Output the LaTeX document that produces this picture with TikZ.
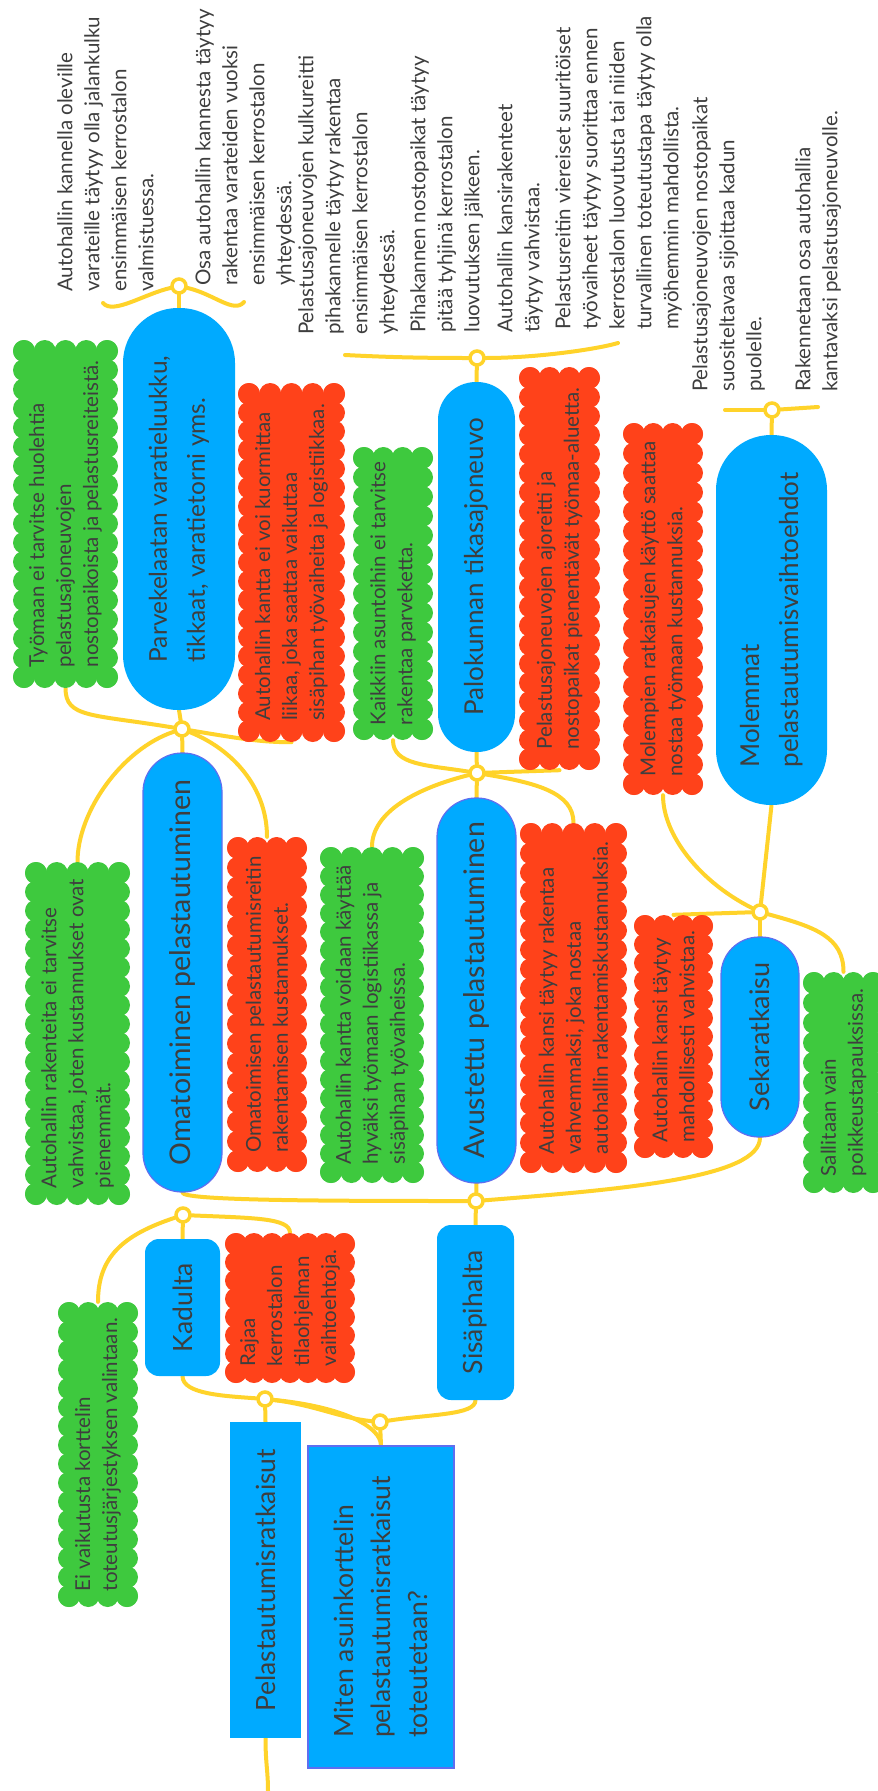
\documentclass[tikz,border=0pt]{standalone}
\usepackage{fontspec}
\setmainfont{Lato}
\definecolor{mmblue}{RGB}{0,170,255}
\definecolor{mmgreen}{RGB}{62,201,62}
\definecolor{mmred}{RGB}{255,66,26}
\definecolor{mmyel}{RGB}{255,211,42}
\definecolor{mmtxt}{RGB}{62,62,62}
\definecolor{mmbord}{RGB}{95,110,240}
\pgfdeclarelayer{bg}
\pgfdeclarelayer{conn}
\pgfsetlayers{bg,conn,main}
\tikzset{
  every node/.style={text=mmtxt},
  notetxt/.style={font=\fontsize{20.5}{27}\selectfont, align=left, inner sep=0pt},
  freetxt/.style={font=\fontsize{20.5}{27}\selectfont, align=left, inner sep=0pt, rotate=90, anchor=north west},
  topic/.style={fill=mmblue, font=\fontsize{26}{38}\selectfont, align=left, inner sep=0pt, rotate=90},
  topicb/.style={topic, draw=mmbord, line width=1.2pt},
  junc/.style={circle, draw=mmyel, fill=white, line width=3.5pt, minimum size=14pt, inner sep=0pt},
  conn/.style={draw=mmyel, line width=4pt, line cap=round},
}
\newcommand\mmscallop[5]{%
  \pgfmathsetmacro\mmax{#2+11}\pgfmathsetmacro\mmbx{#4-11}%
  \pgfmathsetmacro\mmay{#3+11}\pgfmathsetmacro\mmby{#5-11}%
  \pgfmathtruncatemacro\mmnx{max(1,round((\mmbx-\mmax)/19))}%
  \pgfmathtruncatemacro\mmny{max(1,round((\mmby-\mmay)/19))}%
  \fill[#1] (\mmax,\mmay) rectangle (\mmbx,\mmby);%
  \foreach \mmi in {0,...,\mmnx}{\fill[#1] ({\mmax+(\mmbx-\mmax)*\mmi/\mmnx},\mmay) circle[radius=11pt] ({\mmax+(\mmbx-\mmax)*\mmi/\mmnx},\mmby) circle[radius=11pt];}%
  \foreach \mmi in {0,...,\mmny}{\fill[#1] (\mmax,{\mmay+(\mmby-\mmay)*\mmi/\mmny}) circle[radius=11pt] (\mmbx,{\mmay+(\mmby-\mmay)*\mmi/\mmny}) circle[radius=11pt];}%
}
\newcommand\mmcloud[7]{%
  \mmscallop{#2}{#3}{#4}{#5}{#6}%
  \pgfmathsetmacro\mmw{#6-#4}\pgfmathsetmacro\mmh{#5-#3}%
  \node[notetxt, rotate=90, minimum width=\mmw pt, minimum height=\mmh pt] (#1) at ({(#3+#5)/2},{(#4+#6)/2}) {#7};%
}
\begin{document}
\begin{tikzpicture}[x=1pt,y=-1pt]
\useasboundingbox (0,0) rectangle (878,1791);
\begin{pgfonlayer}{bg}
\fill[white] (0,0) rectangle (878,1791);
\end{pgfonlayer}

% topic boxes
\node[topic, minimum width=316pt, minimum height=71pt, font=\fontsize{26.5}{37}\selectfont] (root) at (265.5,1580) {Pelastautumisratkaisut};
\node[topicb, minimum width=322pt, minimum height=146pt, font=\fontsize{26.5}{37}\selectfont] (miten) at (381,1607) {Miten asuinkorttelin\\pelastautumisratkaisut\\toteutetaan?};
\node[topic, minimum width=137pt, minimum height=75pt, rounded corners=14pt, font=\fontsize{26.5}{37}\selectfont] (kad) at (182.5,1307.5) {Kadulta};
\node[topic, minimum width=175pt, minimum height=77pt, rounded corners=14pt, font=\fontsize{26.5}{37}\selectfont] (sisa) at (475.5,1312.5) {Sisäpihalta};
\node[topicb, minimum width=439pt, minimum height=79pt, rounded corners=39pt, font=\fontsize{28.5}{38}\selectfont] (omat) at (182.5,972.5) {Omatoiminen pelastautuminen};
\node[topicb, minimum width=385pt, minimum height=79pt, rounded corners=39pt, font=\fontsize{28.5}{38}\selectfont] (avust) at (476.5,990.5) {Avustettu pelastautuminen};
\node[topic, minimum width=402pt, minimum height=112pt, rounded corners=55pt, font=\fontsize{24.5}{38}\selectfont] (parve) at (179,509) {Parvekelaatan varatieluukku,\\tikkaat, varatietorni yms.};
\node[topic, minimum width=370pt, minimum height=77pt, rounded corners=38pt] (palok) at (476.5,567) {Palokunnan tikasajoneuvo};
\node[topic, minimum width=370pt, minimum height=111pt, rounded corners=55pt, font=\fontsize{26}{39}\selectfont] (molem) at (771.5,620) {Molemmat\\pelastautumisvaihtoehdot};
\node[topicb, minimum width=200pt, minimum height=78pt, rounded corners=38pt, font=\fontsize{27}{38}\selectfont] (sekar) at (760,1037) {Sekaratkaisu};

% notes (clouds)
\mmcloud{g1}{mmgreen}{58}{1302}{138}{1607}{Ei vaikutusta korttelin\\toteutusjärjestyksen valintaan.}
\mmcloud{r1}{mmred}{225}{1233}{355}{1383}{Rajaa\\kerrostalon\\tilaohjelman\\vaihtoehtoja.}
\mmcloud{g2}{mmgreen}{25}{862}{130}{1205}{Autohallin rakenteita ei tarvitse\\vahvistaa, joten kustannukset ovat\\pienemmät.}
\mmcloud{r2}{mmred}{227}{837}{307}{1172}{Omatoimisen pelastautumisreitin\\rakentamisen kustannukset.}
\mmcloud{g3}{mmgreen}{320}{847}{424}{1183}{Autohallin kantta voidaan käyttää\\hyväksi työmaan logistiikassa ja\\sisäpihan työvaiheissa.}
\mmcloud{g4}{mmgreen}{13}{340}{118}{688}{Työmaan ei tarvitse huolehtia\\pelastusajoneuvojen\\nostopaikoista ja pelastusreiteistä.}
\mmcloud{r3}{mmred}{238}{383}{345}{742}{Autohallin kantta ei voi kuormittaa\\liikaa, joka saattaa vaikuttaa\\sisäpihan työvaiheita ja logistiikkaa.}
\mmcloud{g5}{mmgreen}{353}{447}{433}{740}{Kaikkiin asuntoihin ei tarvitse\\rakentaa parveketta.}
\mmcloud{r4}{mmred}{519}{367}{600}{770}{Pelastusajoneuvojen ajoreitti ja\\nostopaikat pienentävät työmaa-aluetta.}
\mmcloud{r5}{mmred}{520}{823}{627}{1173}{Autohallin kansi täytyy rakentaa\\vahvemmaksi, joka nostaa\\autohallin rakentamiskustannuksia.}
\mmcloud{r6}{mmred}{623}{423}{703}{795}{Molempien ratkaisujen käyttö saattaa\\nostaa työmaan kustannuksia.}
\mmcloud{r7}{mmred}{634}{915}{713}{1158}{Autohallin kansi täytyy\\mahdollisesti vahvistaa.}
\mmcloud{g6}{mmgreen}{803}{972}{884}{1193}{Sallitaan vain\\poikkeustapauksissa.}

% free texts
\node[freetxt] (t1) at (57,292) {Autohallin kannella oleville\\varateille täytyy olla jalankulku\\ensimmäisen kerrostalon\\valmistuessa.};
\node[freetxt] (t2) at (195,286) {Osa autohallin kannesta täytyy\\rakentaa varateiden vuoksi\\ensimmäisen kerrostalon\\yhteydessä.};
\node[freetxt] (t3) at (298,335) {Pelastusajoneuvojen kulkureitti\\pihakannelle täytyy rakentaa\\ensimmäisen kerrostalon\\yhteydessä.};
\node[freetxt] (t4) at (410,333) {Pihakannen nostopaikat täytyy\\pitää tyhjinä kerrostalon\\luovutuksen jälkeen.};
\node[freetxt] (t5) at (497,333) {Autohallin kansirakenteet\\täytyy vahvistaa.};
\node[freetxt] (t6) at (555,330) {Pelastusreitin viereiset suuritöiset\\työvaiheet täytyy suorittaa ennen\\kerrostalon luovutusta tai niiden\\turvallinen toteutustapa täytyy olla\\myöhemmin mahdollista.};
\node[freetxt] (t7) at (692,392) {Pelastusajoneuvojen nostopaikat\\suositeltavaa sijoittaa kadun\\puolelle.};
\node[freetxt] (t8) at (795,392) {Rakennetaan osa autohallia\\kantavaksi pelastusajoneuvolle.};

% junctions
\node[junc] (jparve) at (179,286) {};
\node[junc] (jomat) at (182,729) {};
\node[junc] (jpalok) at (477,358) {};
\node[junc] (javust) at (477,773) {};
\node[junc] (jmol) at (772,410) {};
\node[junc] (jsek) at (760,912) {};
\node[junc] (jsisa) at (476,1201) {};
\node[junc] (jkad) at (183,1215) {};
\node[junc] (jroot) at (265,1399) {};
\node[junc] (jmiten) at (380,1422) {};

\coordinate (bpl) at (103,303);
\coordinate (bpr) at (244,302);
\coordinate (bql) at (345,355);
\coordinate (bqr) at (618,343);
\coordinate (bml) at (725,410);
\coordinate (bmr) at (818,407);
\coordinate (rootend) at (268,1791);

\begin{pgfonlayer}{conn}
\draw[conn] (jparve) -- (parve.east);
\draw[conn] (jparve) .. controls +(-35,8) and +(10,12) .. (bpl);
\draw[conn] (jparve) .. controls +(35,8) and +(-10,12) .. (bpr);

\draw[conn] (jomat) -- (parve.west);
\draw[conn] (jomat) -- (omat.east);
\draw[conn] (jomat) .. controls +(-90,-15) and +(0,30) .. (g4.west);
\draw[conn] (jomat) .. controls +(60,10) and +(-30,0) .. (r3.west);
\draw[conn] (jomat) .. controls +(-60,20) and +(0,-50) .. (g2.east);
\draw[conn] (jomat) .. controls +(50,20) and +(0,-50) .. (r2.east);

\draw[conn] (jpalok) -- (palok.east);
\draw[conn] (jpalok) .. controls +(-60,0) and +(40,2) .. (bql);
\draw[conn] (jpalok) .. controls +(60,0) and +(-20,6) .. (bqr);

\draw[conn] (javust) -- (palok.west);
\draw[conn] (javust) -- (avust.east);
\draw[conn] (javust) .. controls +(-50,-8) and +(0,25) .. (g5.west);
\draw[conn] (javust) .. controls +(-60,15) and +(0,-35) .. (g3.east);
\draw[conn] (javust) -- (r4.west);
\draw[conn] (javust) .. controls +(60,10) and +(0,-30) .. (r5.east);

\draw[conn] (jmol) -- (molem.east);
\draw[conn] (jmol) -- (bml);
\draw[conn] (jmol) -- (bmr);

\draw[conn] (jsek) -- (sekar.east);
\draw[conn] (jsek) -- (molem.west);
\draw[conn] (jsek) .. controls +(-60,-30) and +(0,40) .. (r6.west);
\draw[conn] (jsek) -- (r7.east);
\draw[conn] (jsek) .. controls +(55,15) and +(0,-35) .. (g6.east);

\draw[conn] (jsisa) -- (avust.west);
\draw[conn] (jsisa) -- (sisa.east);
\draw[conn] (omat.west) .. controls +(0,8) and +(-150,0) .. (jsisa);
\draw[conn] (jsisa) .. controls +(150,-12) and +(0,40) .. (sekar.west);

\draw[conn] (jkad) -- (kad.east);
\draw[conn] (jkad) .. controls +(-60,20) and +(0,-45) .. (g1.east);
\draw[conn] (jkad) .. controls +(70,3) and +(0,-15) .. (r1.east);

\draw[conn] (jroot) -- (root.east);
\draw[conn] (kad.west) .. controls +(0,18) and +(-40,-3) .. (jroot);
\draw[conn] (jroot) .. controls +(50,6) and +(-40,-4) .. (jmiten);
\draw[conn] (jroot) .. controls +(80,8) and +(0,-18) .. (miten.east);
\draw[conn] (jmiten) -- (miten.east);
\draw[conn] (jmiten) .. controls +(50,-8) and +(0,15) .. (sisa.west);
\draw[conn] (root.west) .. controls +(0,25) and +(0,-20) .. (rootend);
\end{pgfonlayer}
\end{tikzpicture}
\end{document}
